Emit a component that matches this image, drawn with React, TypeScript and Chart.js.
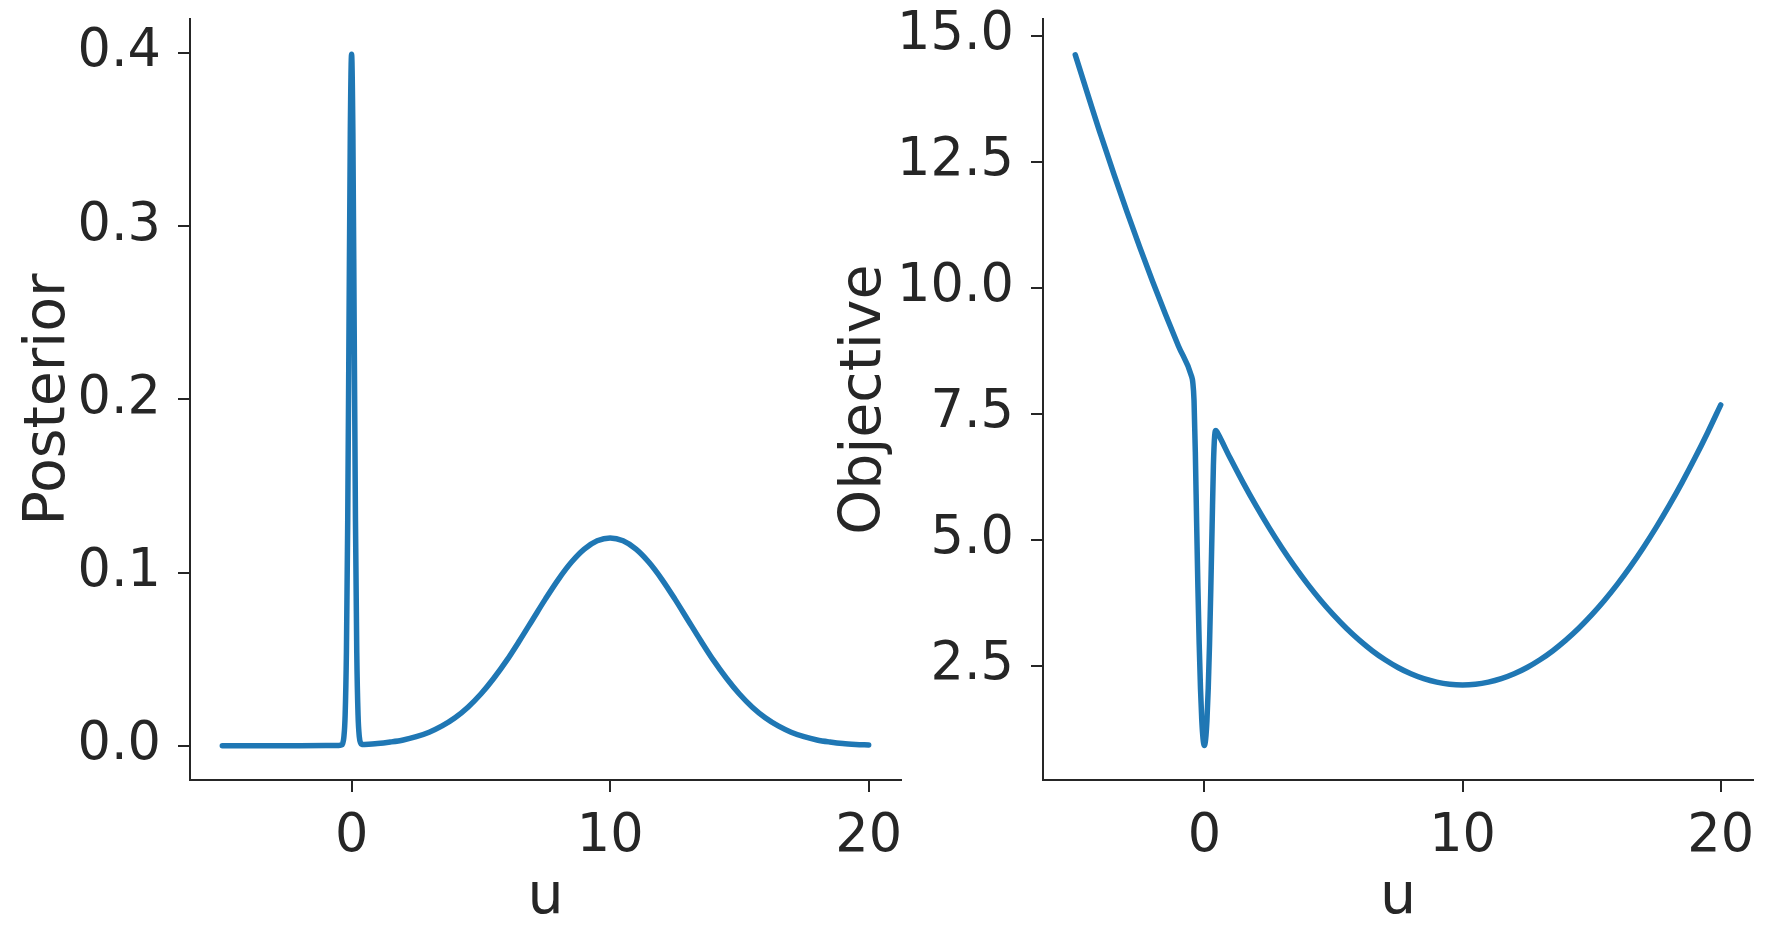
import React, { useEffect, useRef } from "react";
import { Chart, registerables } from "chart.js";

Chart.register(...registerables);

// u grid (denser near the spike at 0)
const uValues = [
  -5, -4, -3, -2, -1, -0.5, -0.45, -0.4, -0.35, -0.3, -0.25, -0.2, -0.15, -0.1, -0.05,
  0, 0.05, 0.1, 0.15, 0.2, 0.25, 0.3, 0.35, 0.4, 0.45, 0.5, 1, 1.5, 2, 2.5,
  3, 3.5, 4, 4.5, 5, 5.5, 6, 6.5, 7, 7.5, 8, 8.5, 9, 9.5, 10, 10.5, 11, 11.5, 12, 12.5,
  13, 13.5, 14, 14.5, 15, 15.5, 16, 16.5, 17, 17.5, 18, 18.5, 19, 19.5, 20,
];

// Posterior values
const posterior = [
  0, 0, 0.00001, 0.00004, 0.00015, 0.00026, 0.0003, 0.00043, 0.0012, 0.0048, 0.0175, 0.054, 0.129, 0.242, 0.353,
  0.399, 0.353, 0.242, 0.13, 0.054, 0.0178, 0.0051, 0.0016, 0.00085, 0.00077, 0.0008, 0.0013, 0.0022, 0.0034, 0.0053,
  0.0079, 0.0115, 0.0162, 0.0223, 0.0299, 0.039, 0.0493, 0.0608, 0.0728, 0.0848, 0.0961, 0.1059, 0.1135, 0.1183, 0.12, 0.1183, 0.1135, 0.1059, 0.0961, 0.0848,
  0.0728, 0.0608, 0.0493, 0.039, 0.0299, 0.0223, 0.0162, 0.0115, 0.0079, 0.0053, 0.0034, 0.0022, 0.0013, 0.0008, 0.0005,
];

// Objective values
const objective = [
  14.62, 13.01, 11.51, 10.12, 8.84, 8.25, 8.13, 7.76, 6.74, 5.35, 4.05, 2.93, 2.05, 1.42, 1.05,
  0.92, 1.05, 1.42, 2.05, 2.93, 4.04, 5.27, 6.47, 7.07, 7.17, 7.13, 6.62, 6.134, 5.676, 5.245,
  4.842, 4.467, 4.12, 3.8, 3.509, 3.245, 3.009, 2.8, 2.62, 2.467, 2.342, 2.245, 2.176, 2.134, 2.12, 2.134, 2.176, 2.245, 2.342, 2.467,
  2.62, 2.8, 3.009, 3.245, 3.509, 3.8, 4.12, 4.467, 4.842, 5.245, 5.676, 6.134, 6.62, 7.134, 7.676,
];

const xTicks = [0, 10, 20];
const posteriorTicks = [0, 0.1, 0.2, 0.3, 0.4];
const objectiveTicks = [2.5, 5, 7.5, 10, 12.5, 15];

const FONT = "'DejaVu Sans', sans-serif";
const INK = "#262626";
const BLUE = "#1f77b4";

type PanelProps = {
  left: number;
  width: number;
  yAxisWidth: number;
  rightPad: number;
  values: number[];
  yTicks: number[];
  yMin: number;
  yMax: number;
  yLabel: string;
  titlePad: number;
};

function Panel(p: PanelProps) {
  const ref = useRef<HTMLCanvasElement | null>(null);
  useEffect(() => {
    if (!ref.current) return;
    const data = uValues.map((u, i) => ({ x: u, y: p.values[i] }));
    const chart = new Chart(ref.current, {
      type: "line",
      data: {
        datasets: [
          {
            data,
            borderColor: BLUE,
            backgroundColor: BLUE,
            borderWidth: 5.5,
            pointRadius: 0,
            cubicInterpolationMode: "monotone",
            borderCapStyle: "round",
            borderJoinStyle: "round",
            fill: false,
          },
        ],
      },
      options: {
        animation: false,
        responsive: false,
        maintainAspectRatio: false,
        layout: { padding: { top: 19, right: p.rightPad, left: 0, bottom: 0 } },
        plugins: { legend: { display: false }, tooltip: { enabled: false } },
        scales: {
          x: {
            type: "linear",
            position: "bottom",
            min: -6.25,
            max: 21.25,
            afterBuildTicks: (s: any) => {
              s.ticks = xTicks.map((v) => ({ value: v }));
            },
            afterFit: (s: any) => {
              s.height = 159;
              s.paddingLeft = 0;
              s.paddingRight = 0;
            },
            ticks: {
              autoSkip: false,
              maxRotation: 0,
              minRotation: 0,
              padding: 19.5,
              color: INK,
              font: { family: FONT, size: 52.5, lineHeight: 1 },
              callback: (v: any) => String(v),
            },
            grid: {
              drawOnChartArea: false,
              drawTicks: true,
              tickLength: 12,
              tickWidth: 2,
              tickColor: INK,
              color: INK,
              lineWidth: 2,
            },
            border: { display: true, color: INK, width: 2 },
            title: {
              display: true,
              text: "u",
              color: INK,
              font: { family: FONT, size: 57 },
              padding: { top: 0, bottom: 6.5 },
            },
          },
          y: {
            type: "linear",
            min: p.yMin,
            max: p.yMax,
            afterBuildTicks: (s: any) => {
              s.ticks = p.yTicks.map((v) => ({ value: v }));
            },
            afterFit: (s: any) => {
              s.width = p.yAxisWidth;
              s.paddingTop = 0;
              s.paddingBottom = 0;
            },
            ticks: {
              autoSkip: false,
              padding: 17,
              color: INK,
              font: { family: FONT, size: 52.5, lineHeight: 1 },
              callback: (v: any) => Number(v).toFixed(1),
            },
            grid: {
              drawOnChartArea: false,
              drawTicks: true,
              tickLength: 12,
              tickWidth: 2,
              tickColor: INK,
              color: INK,
              lineWidth: 2,
            },
            border: { display: true, color: INK, width: 2 },
            title: {
              display: true,
              text: p.yLabel,
              color: INK,
              font: { family: FONT, size: 57 },
              padding: { top: p.titlePad, bottom: 0 },
            },
          },
        },
      },
    } as any);
    return () => chart.destroy();
  }, []);
  return (
    <canvas
      ref={ref}
      width={p.width}
      height={939}
      style={{ position: "absolute", left: p.left, top: 0, width: p.width, height: 939 }}
    />
  );
}

export default function App() {
  return (
    <div style={{ position: "absolute", left: 0, top: 0, width: 1773, height: 939, background: "#ffffff" }}>
      <Panel
        left={0}
        width={920}
        yAxisWidth={190}
        rightPad={19}
        values={posterior}
        yTicks={posteriorTicks}
        yMin={-0.0197}
        yMax={0.4194}
        yLabel="Posterior"
        titlePad={15}
      />
      <Panel
        left={780}
        width={993}
        yAxisWidth={263}
        rightPad={20}
        values={objective}
        yTicks={objectiveTicks}
        yMin={0.235}
        yMax={15.33}
        yLabel="Objective"
        titlePad={50.5}
      />
    </div>
  );
}
